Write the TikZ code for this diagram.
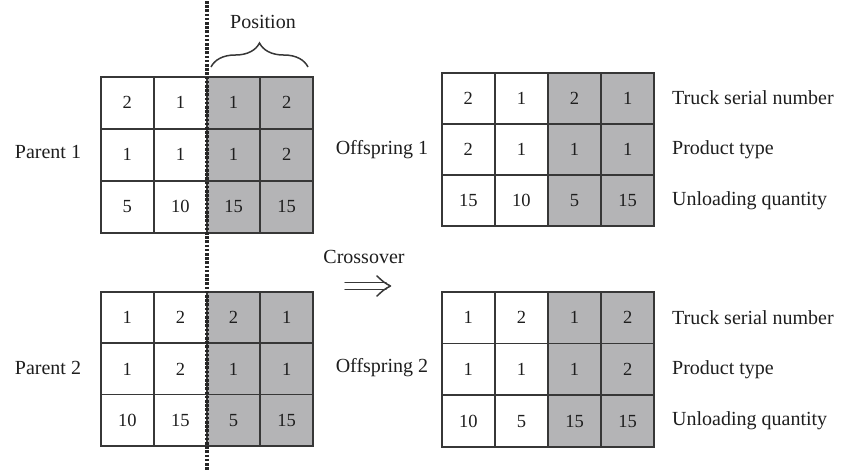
\documentclass[tikz,border=0pt]{standalone}
\usepackage{fontspec}
\setmainfont{Liberation Serif}
\usetikzlibrary{decorations.pathreplacing}
\definecolor{cellgray}{RGB}{180,180,182}
\definecolor{linec}{RGB}{55,55,55}
\definecolor{txt}{RGB}{30,30,30}
\newcommand{\mygrid}[5]{%
 \foreach \v [count=\i from 0] in {#5} {
   \pgfmathtruncatemacro{\rr}{floor(\i/4)}
   \pgfmathtruncatemacro{\cc}{mod(\i,4)}
   \ifnum\cc<2
     \node[cell, minimum height=#4] (#1-\rr-\cc) at ({#2+\cc*53.1},{#3+\rr*#4}) {\v};
   \else
     \node[shaded, minimum height=#4] (#1-\rr-\cc) at ({#2+\cc*53.1},{#3+\rr*#4}) {\v};
   \fi
 }}
\begin{document}
\begin{tikzpicture}[x=1pt,y=-1pt,
 cell/.style={draw=linec, line width=1.6pt, minimum width=53.1pt, inner sep=0pt,
   font=\fontsize{18.5}{18.5}\selectfont, text=txt, anchor=north west},
 shaded/.style={cell, fill=cellgray},
 lbl/.style={font=\fontsize{20}{20}\selectfont, text=txt, inner sep=0pt},
 dotline/.style={draw=black!85, line width=3.2pt, dash pattern=on 2.6pt off 1.6pt},
 dblarrow/.style={draw=linec, line width=1.5pt, line cap=round, line join=round}]
\useasboundingbox (0,0) rectangle (846,472);

\mygrid{pa}{100}{76}{52}{2,1,1,2,1,1,1,2,5,10,15,15}
\mygrid{pb}{100}{291}{51.4}{1,2,2,1,1,2,1,1,10,15,5,15}
\mygrid{oa}{441}{72}{51}{2,1,2,1,2,1,1,1,15,10,5,15}
\mygrid{ob}{441}{291}{51.7}{1,2,1,2,1,1,1,2,10,5,15,15}

% dotted crossover line
\coordinate (dtop) at (207,1);
\coordinate (dbot) at (207,470);
\draw[dotline] (dtop) -- (dbot);

% brace and label
\coordinate (bl) at (211,67);
\coordinate (br) at (308,67);
\draw[draw=linec, line width=1.5pt, decorate, decoration={brace, amplitude=24pt, aspect=0.5}] (bl) -- (br);
\node[lbl] (pos) at (263,22) {Position};

% left labels
\node[lbl] (p1) at (48,152) {Parent 1};
\node[lbl] (p2) at (48,368) {Parent 2};
\node[lbl] (o1) at (382,150) {Offspring 1};
\node[lbl] (o2) at (382,368) {Offspring 2};

% crossover
\node[lbl] (cross) at (364,257) {Crossover};
\coordinate (a1) at (345,282.5);
\coordinate (a2) at (386,282.5);
\coordinate (b1) at (345,289.5);
\coordinate (b2) at (386,289.5);
\coordinate (h1) at (377,276);
\coordinate (h2) at (390.5,286);
\coordinate (h3) at (377,296);
\draw[dblarrow] (a1) -- (a2);
\draw[dblarrow] (b1) -- (b2);
\draw[dblarrow] (h1) .. controls (384,282.5) .. (h2) .. controls (384,289.5) .. (h3);

% right labels
\node[lbl, anchor=west] (t1) at (672,98) {Truck serial number};
\node[lbl, anchor=west] (t2) at (672,150) {Product type};
\node[lbl, anchor=west] (t3) at (672,201) {Unloading quantity};
\node[lbl, anchor=west] (t4) at (672,318) {Truck serial number};
\node[lbl, anchor=west] (t5) at (672,370) {Product type};
\node[lbl, anchor=west] (t6) at (672,421) {Unloading quantity};
\end{tikzpicture}
\end{document}
